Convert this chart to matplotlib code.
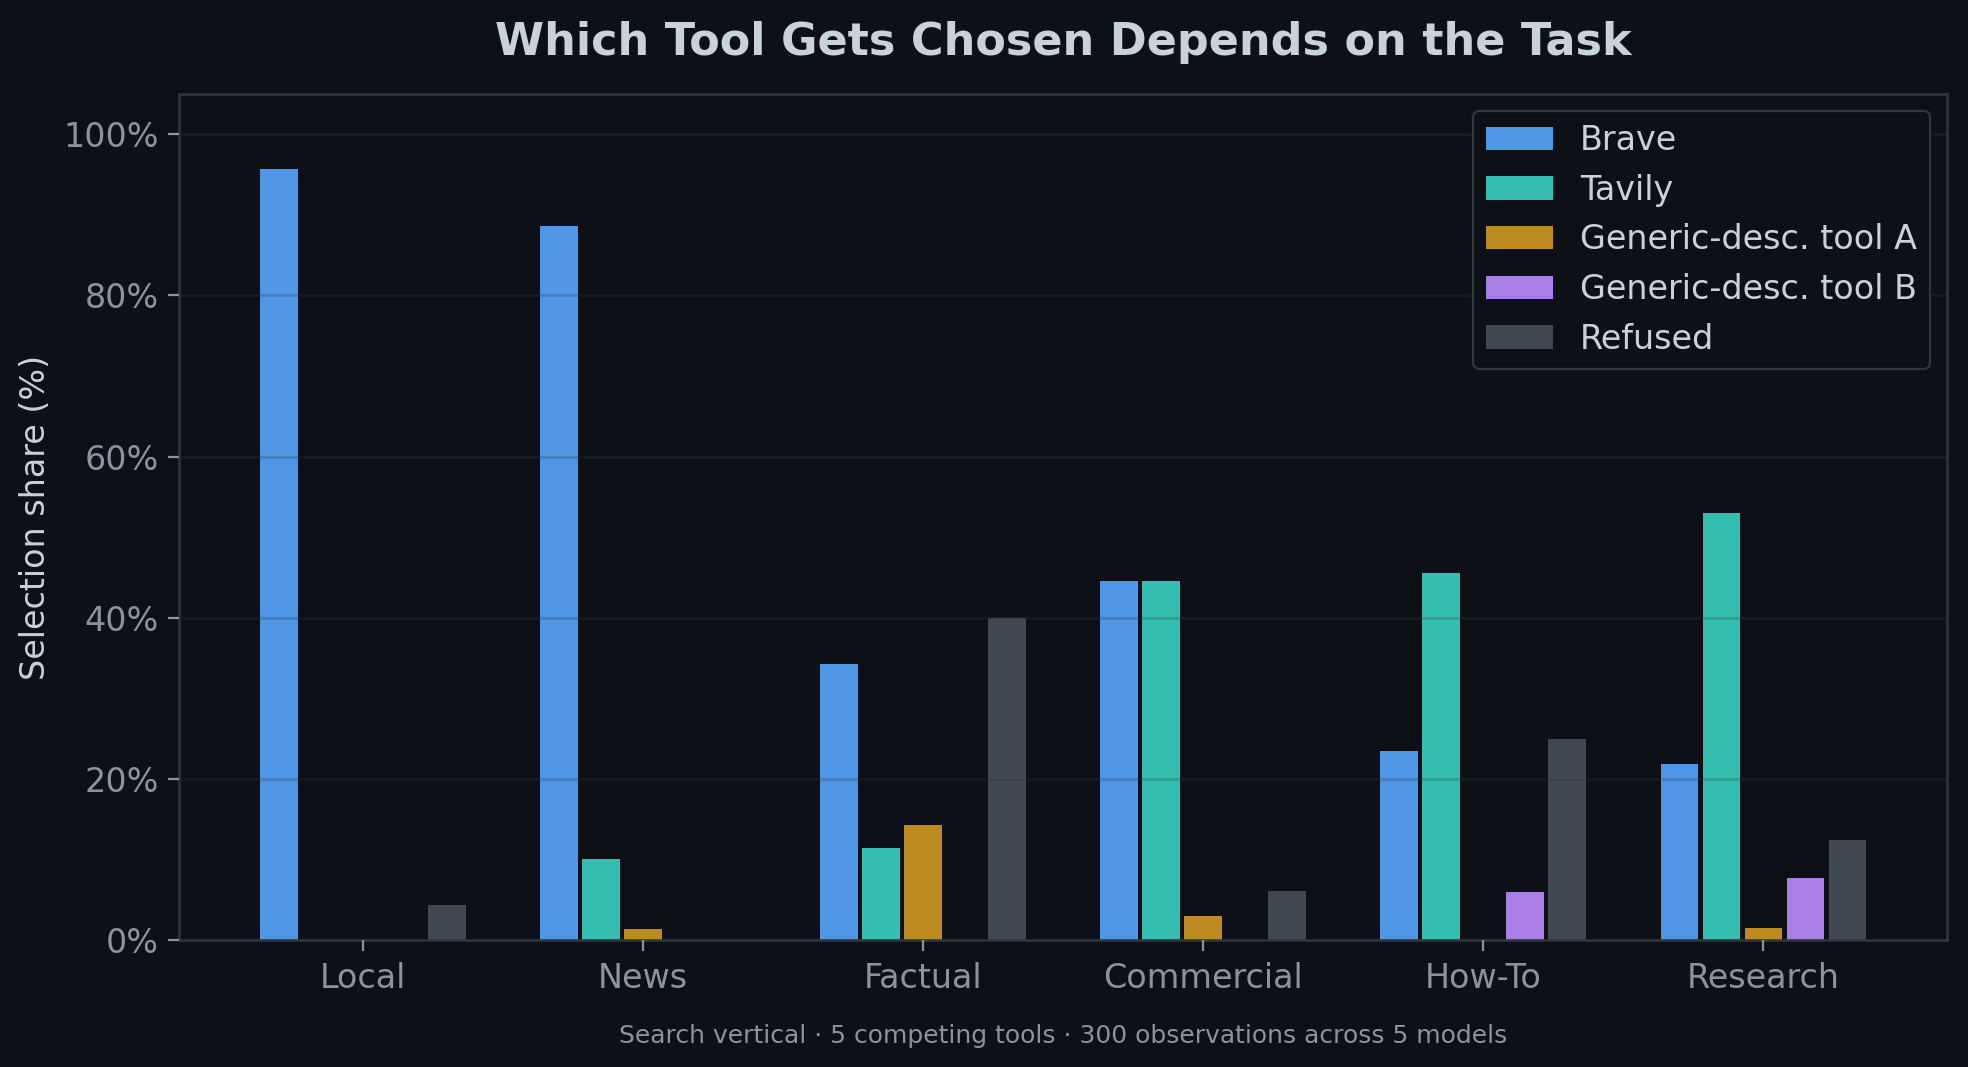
import matplotlib
matplotlib.use("Agg")
import matplotlib.pyplot as plt
import numpy as np

categories = ["Local", "News", "Factual", "Commercial", "How-To", "Research"]
series_names = ["Brave", "Tavily", "Generic-desc. tool A", "Generic-desc. tool B", "Refused"]
brave = [95.7, 88.6, 34.3, 44.6, 23.5, 21.9]
tavily = [0.0, 10.0, 11.4, 44.6, 45.6, 53.0]
generic_a = [0.0, 1.4, 14.3, 3.0, 0.0, 1.5]
generic_b = [0.0, 0.0, 0.0, 0.0, 5.9, 7.7]
refused = [4.3, 0.0, 40.0, 6.1, 25.0, 12.4]
colors = ["#4f96e6", "#34beaf", "#bd8a22", "#a97fe6", "#414852"]
yticks = [0, 20, 40, 60, 80, 100]
ytick_labels = ["0%", "20%", "40%", "60%", "80%", "100%"]

BG = "#0d1117"
FG = "#c9d1d9"
MUTED = "#8b949e"
EDGE = "#30363d"

fig = plt.figure(figsize=(9.84, 5.335), dpi=200, facecolor=BG)
ax = fig.add_axes([0.0912, 0.119, 0.898, 0.7929])
ax.set_facecolor(BG)

values = [brave, tavily, generic_a, generic_b, refused]
x = np.arange(len(categories))
pitch = 0.15
width = 0.135
for i, (name, vals, c) in enumerate(zip(series_names, values, colors)):
    ax.bar(x + (i - 2) * pitch, vals, width=width, color=c, label=name, zorder=1)

ax.set_ylim(0, 105)
ax.set_yticks(yticks)
ax.set_yticklabels(ytick_labels)
ax.set_xticks(x)
ax.set_xticklabels(categories)
ax.set_axisbelow(False)
ax.yaxis.grid(True, color=EDGE, alpha=0.25, linewidth=1.0)
ax.xaxis.grid(False)

for s in ax.spines.values():
    s.set_color(EDGE)
    s.set_linewidth(0.9)

ax.tick_params(axis="both", colors=MUTED, labelsize=12, length=4, width=0.8)
ax.tick_params(axis="x", pad=4)
ax.set_ylabel("Selection share (%)", color=FG, fontsize=12)
ax.set_title("Which Tool Gets Chosen Depends on the Task", color=FG,
             fontsize=16, fontweight="bold", pad=14)

leg = ax.legend(loc="upper right", fontsize=12, facecolor=BG, edgecolor=EDGE,
                framealpha=1.0, labelcolor=FG)
leg.get_frame().set_linewidth(0.8)

fig.text(0.5402, 0.0287, "Search vertical · 5 competing tools · 300 observations across 5 models",
         color=MUTED, fontsize=9, ha="center", va="center")

fig.savefig("out.png", dpi=200, facecolor=BG)
